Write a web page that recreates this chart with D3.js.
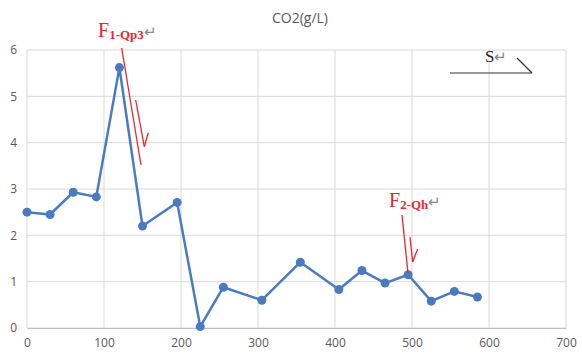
<!DOCTYPE html>
<html><head><meta charset="utf-8">
<script src="https://cdn.jsdelivr.net/npm/d3@7"></script>
<style>body{margin:0;background:#fff}svg{display:block}</style>
</head><body>
<svg id="c" width="582" height="355"></svg>
<script>
const distances = [0,30,60,90,120,150,195,225,255,305,355,405,435,465,495,525,555,585];
const co2 = [2.5,2.45,2.93,2.83,5.62,2.2,2.71,0.03,0.88,0.6,1.42,0.83,1.24,0.97,1.15,0.58,0.79,0.67];
const xTicks = [0,100,200,300,400,500,600,700];
const yTicks = [0,1,2,3,4,5,6];
const title = "CO2(g/L)";

const svg = d3.select("#c");
const x = d3.scaleLinear().domain([0,700]).range([27,566]);
const y = d3.scaleLinear().domain([0,6]).range([328,50]);
const gridC = "#d9d9d9", textC = "#595959";

svg.append("g").selectAll("line").data(yTicks).join("line")
  .attr("x1",x(0)).attr("x2",x(700)).attr("y1",d=>y(d)).attr("y2",d=>y(d))
  .attr("stroke",gridC).attr("stroke-width",1);
svg.append("g").selectAll("line").data(xTicks).join("line")
  .attr("y1",y(0)).attr("y2",y(6)).attr("x1",d=>x(d)).attr("x2",d=>x(d))
  .attr("stroke",gridC).attr("stroke-width",1);

const yAxis = d3.axisLeft(y).tickValues(yTicks).tickFormat(d3.format("d")).tickSize(0).tickPadding(10);
const gy = svg.append("g").attr("transform",`translate(${x(0)},0)`).call(yAxis);
gy.select(".domain").remove();
gy.selectAll("text").attr("fill",textC).style("font-family","Open Sans, Noto Sans, sans-serif").style("font-size","12px");

const xAxis = d3.axisBottom(x).tickValues(xTicks).tickFormat(d3.format("d")).tickSize(0).tickPadding(10);
const gx = svg.append("g").attr("transform",`translate(0,${y(0)})`).call(xAxis);
gx.select(".domain").attr("stroke","#bfbfbf");
gx.selectAll("text").attr("fill",textC).style("font-family","Open Sans, Noto Sans, sans-serif").style("font-size","12px");

svg.append("text").attr("x",300).attr("y",23).attr("text-anchor","middle")
  .attr("fill",textC).style("font-family","Open Sans, Noto Sans, sans-serif").style("font-size","14px").text(title);

const pts = distances.map((d,i)=>[d,co2[i]]);
svg.append("path").datum(pts)
  .attr("d",d3.line().x(d=>x(d[0])).y(d=>y(d[1])))
  .attr("fill","none").attr("stroke","#4a7bc0").attr("stroke-width",2.5).attr("stroke-linejoin","round");
svg.append("g").selectAll("circle").data(pts).join("circle")
  .attr("cx",d=>x(d[0])).attr("cy",d=>y(d[1])).attr("r",4.5).attr("fill","#4a7bc0");

// annotations
const red = "#e8272a";
function label(px, py, sub){
  const t = svg.append("text").attr("x",px).attr("y",py).attr("fill",red)
    .style("font-family","Liberation Serif, Times New Roman, serif");
  t.append("tspan").style("font-size","20px").text("F");
  t.append("tspan").style("font-size","13px").style("font-weight","bold").attr("dy",2).text(sub);
  t.append("tspan").attr("fill","#888").style("font-size","15px").attr("dy",-2).text("↵");
}
label(98,37,"1-Qp3");
label(389,207,"2-Qh");
function seg(a,b,c,d,col,w){svg.append("line").attr("x1",a).attr("y1",b).attr("x2",c).attr("y2",d).attr("stroke",col).attr("stroke-width",w||1.3);}
seg(121.7,48,141,165,red);
seg(135.7,100,144.3,146.7,red);
seg(144.3,146.7,148.3,132.7,red);
seg(402,215,408,273,red);
seg(410,237,412.7,262,red);
seg(412.7,262,417.7,249,red);

const s = svg.append("text").attr("x",485).attr("y",62).attr("fill","#222")
  .style("font-family","Liberation Serif, Times New Roman, serif");
s.append("tspan").style("font-size","17px").text("S");
s.append("tspan").attr("fill","#888").style("font-size","15px").text("↵");
seg(450,73,532,73,"#333",1.2);
seg(517,58,532,73,"#333",1.2);
</script>
</body></html>
